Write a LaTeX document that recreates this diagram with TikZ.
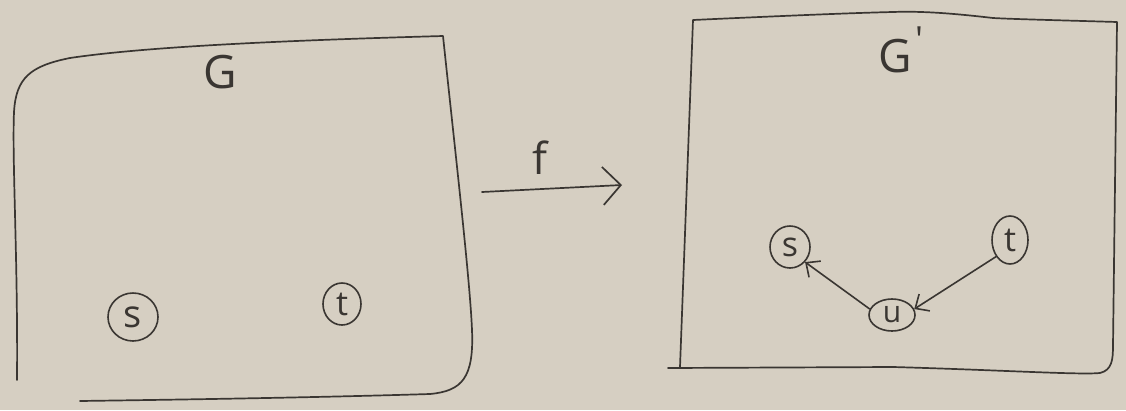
\documentclass[tikz,border=0pt]{standalone}
\usepackage{fontspec}
\setmainfont{Open Sans}
\usetikzlibrary{shapes.geometric,arrows.meta}
\definecolor{paper}{RGB}{214,207,194}
\definecolor{pen}{RGB}{58,54,50}
\tikzset{
  sketch/.style={draw=pen, line width=1.7pt, line cap=round, line join=round},
  vtx/.style={ellipse, draw=pen, line width=1.6pt, inner sep=0pt, text=pen, font=\fontsize{34}{34}\selectfont},
  edge/.style={sketch, line width=1.6pt, -{Straight Barb[length=11pt,width=20pt,line width=1.6pt]}},
  lbl/.style={text=pen, inner sep=0pt}
}
\begin{document}
\begin{tikzpicture}[x=1pt,y=-1pt]
\useasboundingbox (0,0) rectangle (1126,410);
\fill[paper] (0,0) rectangle (1126,410);
% left frame G
\draw[sketch] (17,380) .. controls (18,260) and (12,160) .. (14,112)
  .. controls (16,78) and (30,66) .. (70,58)
  .. controls (150,46) and (300,40) .. (443,36)
  .. controls (455,150) and (470,280) .. (472,330)
  .. controls (474,378) and (462,391) .. (430,394)
  .. controls (300,398) and (150,400) .. (80,401);
\node[lbl, font=\fontsize{46}{46}\selectfont] (G) at (220,72) {G};
\node[vtx, minimum width=50pt, minimum height=48pt, font=\fontsize{38}{38}\selectfont] (s1) at (133,317) {s};
\node[vtx, minimum width=38pt, minimum height=42pt] (t1) at (342,304) {t};
% mapping arrow
\coordinate (fa) at (482,192);
\coordinate (fb) at (622,185);
\draw[sketch, -{Straight Barb[length=18pt,width=38pt,line width=1.7pt]}] (fa) -- (fb);
\node[lbl, font=\fontsize{44}{44}\selectfont] (f) at (540,158) {f};
% right frame G'
\draw[sketch] (668,368) -- (893,367)
  .. controls (1000,370) and (1080,375) .. (1100,373)
  .. controls (1112,370) and (1113,360) .. (1113,345)
  -- (1117,22)
  .. controls (1050,20) and (1010,19) .. (993,18)
  .. controls (950,13) and (920,11) .. (893,12)
  .. controls (850,13) and (780,16) .. (693,20)
  -- (680,367);
\node[lbl, font=\fontsize{46}{46}\selectfont] (G2) at (895,56) {G};
\node[lbl, font=\fontsize{36}{36}\selectfont] (pr) at (919,40) {\textquotesingle};
\node[vtx, minimum width=40pt, minimum height=42pt] (s2) at (790,247) {s};
\node[vtx, minimum width=36pt, minimum height=48pt] (t2) at (1010,240) {t};
\node[vtx, minimum width=46pt, minimum height=32pt, font=\fontsize{30}{30}\selectfont] (u2) at (892,315) {u};
\draw[edge] (u2.165) -- (s2.-45);
\draw[edge] (t2.-130) -- (u2.15);
\end{tikzpicture}
\end{document}
